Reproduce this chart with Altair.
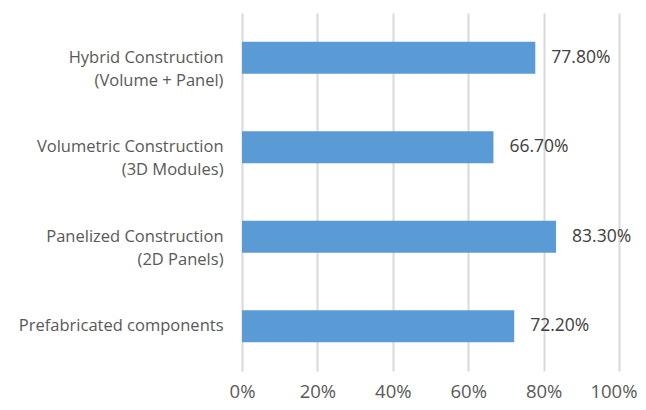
import altair as alt
import pandas as pd

categories = [
    "Hybrid Construction|(Volume + Panel)",
    "Volumetric Construction|(3D Modules)",
    "Panelized Construction|(2D Panels)",
    "Prefabricated components",
]
values = [0.778, 0.667, 0.833, 0.722]
x_ticks = [0, 0.2, 0.4, 0.6, 0.8, 1.0]

df = pd.DataFrame({"category": categories, "value": values})

FONT = "Open Sans"
GRAY = "#595959"

y_enc = alt.Y(
    "category:N",
    sort=categories,
    scale=alt.Scale(paddingInner=0.64, paddingOuter=0.32),
    axis=alt.Axis(
        title=None,
        labelExpr="split(datum.label, '|')",
        labelFont=FONT,
        labelFontSize=16.5,
        labelColor=GRAY,
        labelPadding=19,
        labelLineHeight=23,
        ticks=False,
        domain=False,
        grid=False,
        labelLimit=300,
    ),
)

x_enc = alt.X(
    "value:Q",
    scale=alt.Scale(domain=[0, 1], nice=False),
    axis=alt.Axis(
        title=None,
        values=x_ticks,
        format=".0%",
        labelFont=FONT,
        labelFontSize=18.5,
        labelColor=GRAY,
        labelPadding=11,
        labelFlush=False,
        labelOverlap=False,
        labelAlign={"condition": {"test": "datum.value >= 1", "value": "right"}, "value": "center"},
        labelOffset={"condition": {"test": "datum.value >= 1", "value": 18}, "value": 0},
        ticks=False,
        domain=False,
        grid=True,
        gridColor="#d9d9d9",
        gridWidth=2,
    ),
)

bars = alt.Chart(df).mark_bar(color="#5B9BD5").encode(x=x_enc, y=y_enc)

labels = alt.Chart(df).mark_text(
    align="left", baseline="middle", dx=16, font=FONT, fontSize=17.5, color="#404040"
).encode(
    x="value:Q",
    y=alt.Y("category:N", sort=categories),
    text=alt.Text("value:Q", format=".2%"),
)

chart = (
    alt.layer(bars, labels)
    .properties(
        width=377,
        height=358,
        autosize=alt.AutoSizeParams(type="none"),
        padding={"left": 234, "top": 5, "right": 19, "bottom": 31},
    )
    .configure_view(stroke=None)
)

chart.save("out.html", embed_options={"renderer": "svg", "actions": False})
